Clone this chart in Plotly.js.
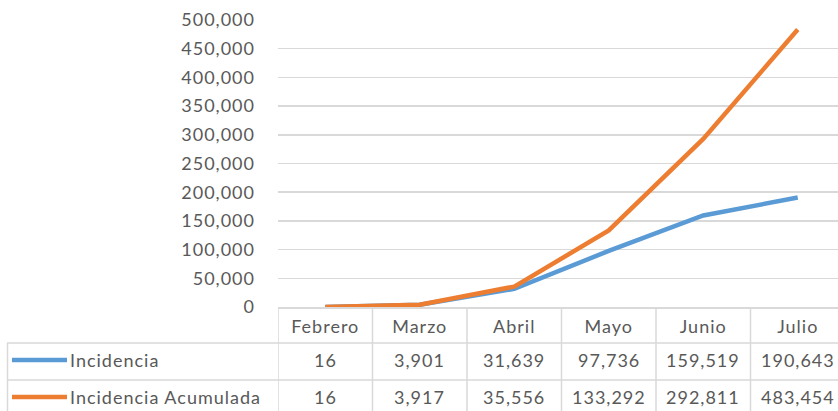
<!DOCTYPE html>
<html>
<head>
<meta charset="utf-8">
<script src="https://cdn.plot.ly/plotly-3.0.1.min.js"></script>
<style>html,body{margin:0;padding:0;background:#fff;}#chart{width:838px;height:411px;}text{letter-spacing:1px;}</style>
</head>
<body>
<div id="chart"></div>
<script>
const months = ["Febrero", "Marzo", "Abril", "Mayo", "Junio", "Julio"];
const incidencia = [16, 3901, 31639, 97736, 159519, 190643];
const acumulada = [16, 3917, 35556, 133292, 292811, 483454];
const seriesNames = ["Incidencia", "Incidencia Acumulada"];
const yTicks = [0, 50000, 100000, 150000, 200000, 250000, 300000, 350000, 400000, 450000, 500000];

const FONT = "Lato, 'Open Sans', sans-serif";
const TXT = "#595959";
const GRID = "#D9D9D9";
const colors = ["#5B9BD5", "#ED7D31"];
const W = 838, H = 411;
const mL = 278, mR = 0, mT = 20, mB = 104;
const plotW = W - mL - mR, plotH = H - mT - mB;
const px2paperX = p => (p - mL) / plotW;
const px2paperY = p => (H - mB - p) / plotH;

const traces = [
  {x: months, y: incidencia, name: seriesNames[0], type: "scatter", mode: "lines",
   line: {color: colors[0], width: 4.5}},
  {x: months, y: acumulada, name: seriesNames[1], type: "scatter", mode: "lines",
   line: {color: colors[1], width: 4.5}}
];

const rowY = [px2paperY(360), px2paperY(397)];
const shapes = [];
const annotations = [];
const yRow1 = px2paperY(343), yRow2 = px2paperY(380), yBot = px2paperY(411);
shapes.push({type: "line", xref: "paper", yref: "paper", x0: px2paperX(7), x1: 1.02, y0: yRow1, y1: yRow1, line: {color: GRID, width: 1.5}});
shapes.push({type: "line", xref: "paper", yref: "paper", x0: px2paperX(7), x1: 1.02, y0: yRow2, y1: yRow2, line: {color: GRID, width: 1.5}});
shapes.push({type: "line", xref: "paper", yref: "paper", x0: px2paperX(7.5), x1: px2paperX(7.5), y0: yRow1, y1: yBot - 0.05, line: {color: GRID, width: 1.5}});
for (let i = 0; i < months.length; i++) {
  shapes.push({type: "line", xref: "x", yref: "paper", x0: i - 0.5, x1: i - 0.5, y0: 0, y1: yBot - 0.05, line: {color: GRID, width: 1.5}});
}
[incidencia, acumulada].forEach((vals, r) => {
  shapes.push({type: "line", xref: "paper", yref: "paper", x0: px2paperX(12), x1: px2paperX(67), y0: rowY[r], y1: rowY[r], line: {color: colors[r], width: 4.5}});
  annotations.push({xref: "paper", yref: "paper", x: px2paperX(68), y: rowY[r], xanchor: "left", yanchor: "middle",
    text: seriesNames[r], showarrow: false, font: {family: FONT, size: 18, color: TXT}});
  vals.forEach((v, i) => {
    annotations.push({xref: "x", yref: "paper", x: months[i], y: rowY[r], xanchor: "center", yanchor: "middle",
      text: v.toLocaleString("en-US"), showarrow: false, font: {family: FONT, size: 18, color: TXT}});
  });
});

const layout = {
  width: W, height: H,
  margin: {l: mL, r: mR, t: mT, b: mB, pad: 0},
  paper_bgcolor: "#fff", plot_bgcolor: "#fff",
  showlegend: false,
  font: {family: FONT, size: 18, color: TXT},
  xaxis: {type: "category", range: [-0.5, -0.5 + plotW / 94.5], showgrid: false, zeroline: false,
    showline: true, linecolor: GRID, linewidth: 1.5, ticks: "", ticklabelstandoff: 3,
    tickfont: {family: FONT, size: 18, color: TXT}, fixedrange: true},
  yaxis: {range: [0, 500000], tickvals: yTicks, tickformat: ",d", showgrid: true, gridcolor: GRID, gridwidth: 1.5,
    zeroline: false, showline: false, ticks: "", ticklabelstandoff: 22,
    tickfont: {family: FONT, size: 18, color: TXT}, fixedrange: true},
  shapes: shapes,
  annotations: annotations
};

Plotly.newPlot("chart", traces, layout, {displayModeBar: false, staticPlot: true});
</script>
</body>
</html>
